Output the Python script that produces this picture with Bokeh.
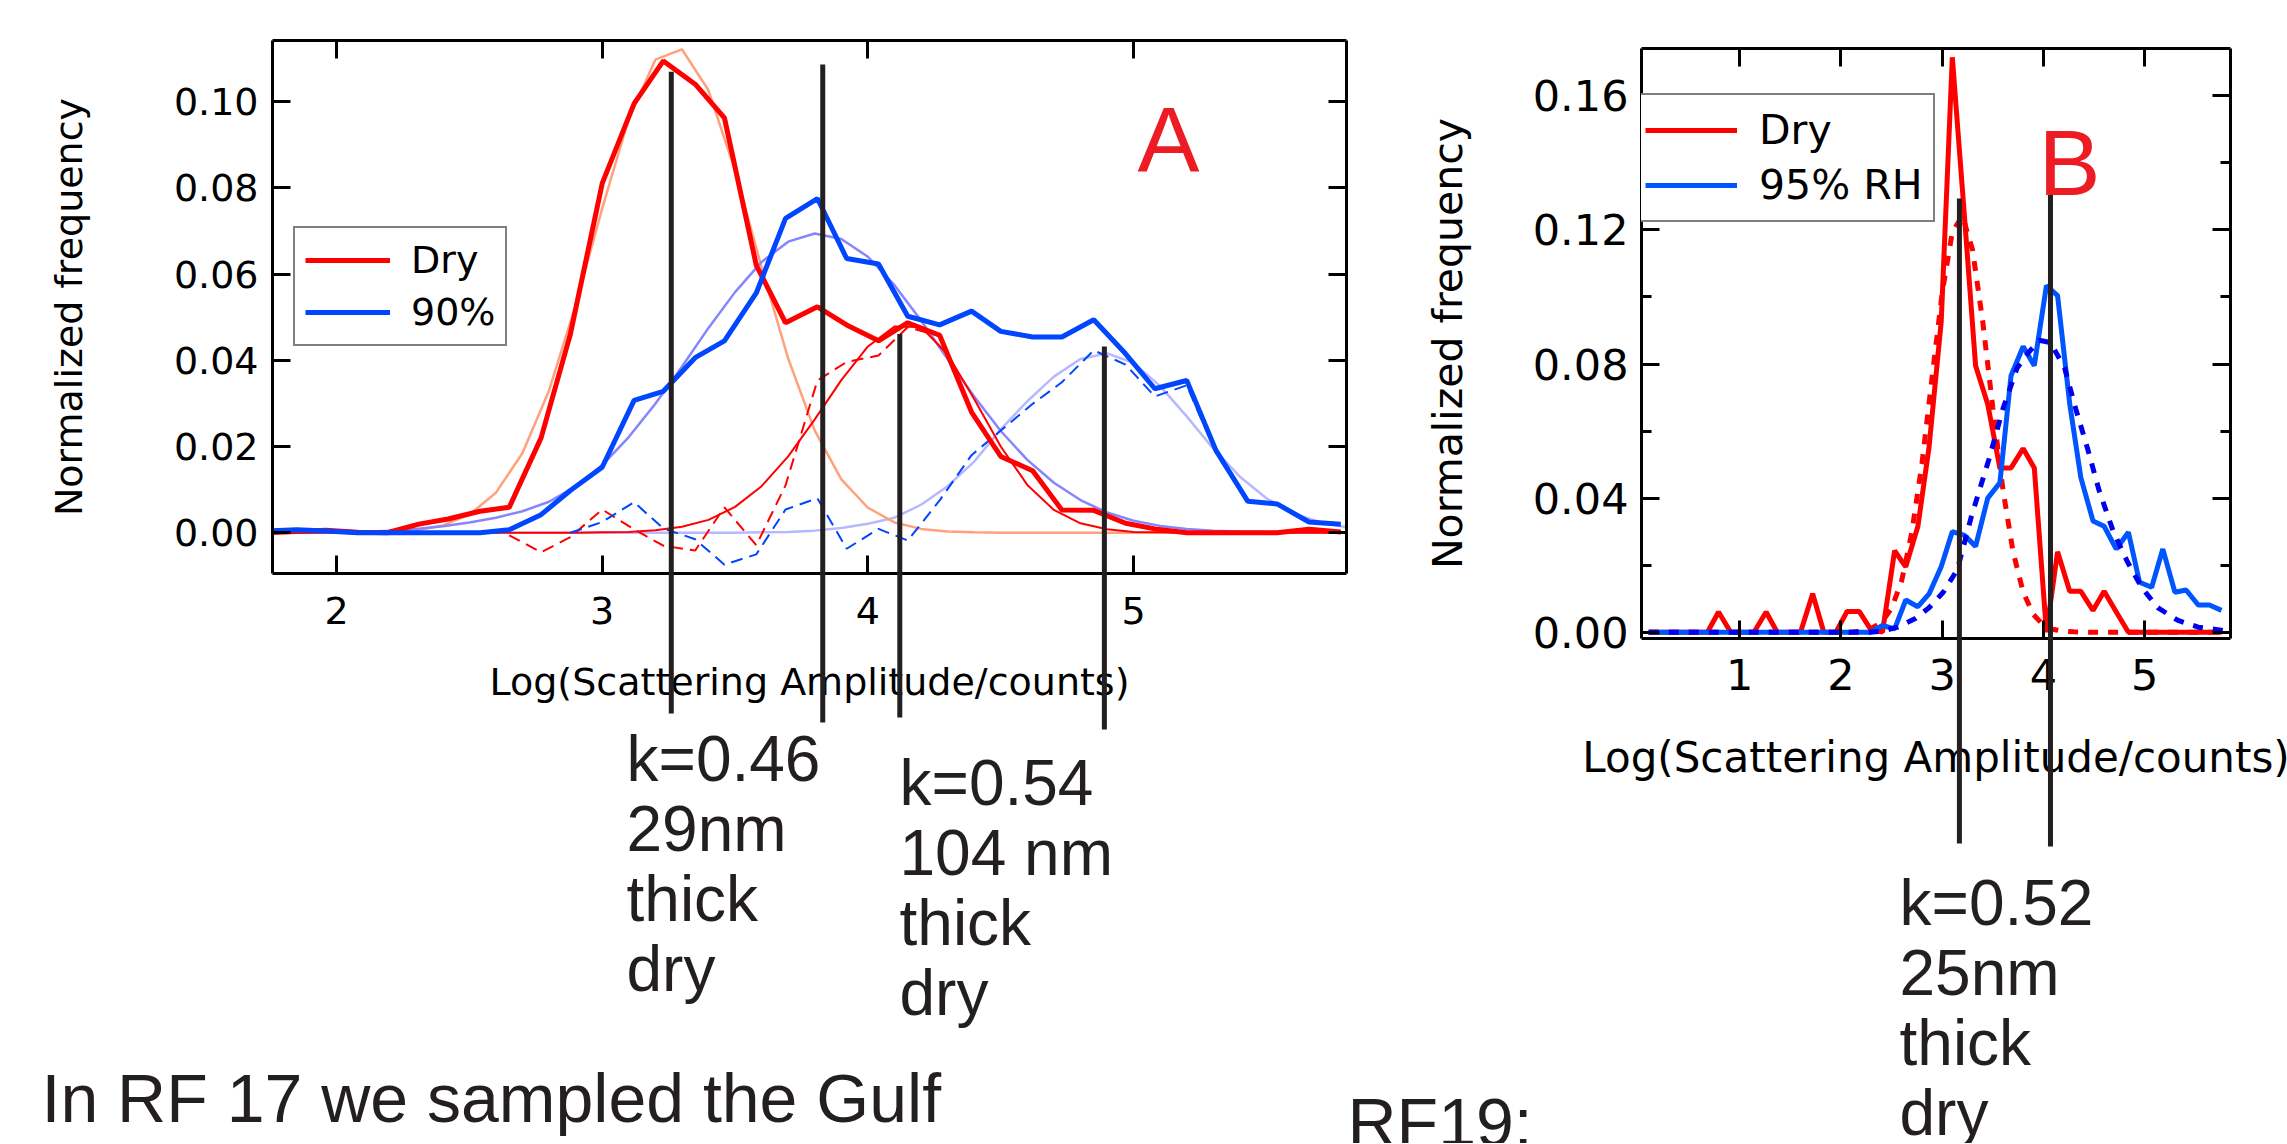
from bokeh.plotting import figure
from bokeh.models import (Range1d, LinearAxis, FixedTicker, PrintfTickFormatter,
                          Legend, LegendItem, Spacer)
from bokeh.core.properties import value
from bokeh.layouts import column, row
from bokeh.embed import file_html
from bokeh.resources import INLINE

# ------------------------------------------------------------------ data A
a_bins = [1.73, 1.85, 1.96, 2.08, 2.19, 2.31, 2.42, 2.54, 2.65, 2.77, 2.88, 3.00,
          3.12, 3.23, 3.35, 3.46, 3.58, 3.69, 3.81, 3.92, 4.04, 4.15, 4.27, 4.39,
          4.50, 4.62, 4.73, 4.85, 4.97, 5.08, 5.20, 5.31, 5.43, 5.54, 5.66, 5.78]
a_dry = [0.0000, 0.0003, 0.0006, 0.0001, 0.0000, 0.0020, 0.0032, 0.0050, 0.0059,
         0.0220, 0.0460, 0.0810, 0.0995, 0.1094, 0.1040, 0.0962, 0.0620, 0.0487,
         0.0524, 0.0482, 0.0445, 0.0487, 0.0458, 0.0280, 0.0177, 0.0144, 0.0053,
         0.0052, 0.0022, 0.0009, 0.0000, 0.0000, 0.0000, 0.0000, 0.0008, 0.0002]
a_wet = [0.0004, 0.0007, 0.0004, 0.0000, 0.0000, 0.0000, 0.0000, 0.0000, 0.0007,
         0.0042, 0.0098, 0.0152, 0.0307, 0.0328, 0.0406, 0.0445, 0.0556, 0.0729,
         0.0775, 0.0636, 0.0623, 0.0502, 0.0482, 0.0514, 0.0467, 0.0454, 0.0454,
         0.0494, 0.0415, 0.0334, 0.0353, 0.0191, 0.0073, 0.0067, 0.0025, 0.0020]
a_dry_res_x = [2.65, 2.77, 2.88, 3.00, 3.12, 3.23, 3.35, 3.46, 3.58, 3.69, 3.81, 3.92,
               4.04, 4.15, 4.27, 4.39, 4.50, 4.62, 4.73, 4.85, 4.97, 5.08, 5.20, 5.31,
               5.43, 5.54, 5.66, 5.78]
a_dry_res = [-0.0006, -0.0045, -0.0010, 0.0054, 0.0008, -0.0030, -0.0041, 0.0059,
             -0.0029, 0.0110, 0.0353, 0.0396, 0.0411, 0.0477, 0.0456, 0.0280, 0.0177,
             0.0144, 0.0053, 0.0052, 0.0022, 0.0009, 0.0000, 0.0000, 0.0000, 0.0000,
             0.0008, 0.0002]
a_wet_res_x = [2.88, 3.00, 3.12, 3.23, 3.35, 3.46, 3.58, 3.69, 3.81, 3.92, 4.04, 4.15,
               4.27, 4.39, 4.50, 4.62, 4.73, 4.85, 4.97, 5.08, 5.20, 5.31, 5.43, 5.54,
               5.66, 5.78]
a_wet_res = [0.0000, 0.0025, 0.0071, 0.0010, -0.0015, -0.0074, -0.0050, 0.0054, 0.0080,
             -0.0037, 0.0009, -0.0018, 0.0075, 0.0180, 0.0237, 0.0299, 0.0349, 0.0423,
             0.0390, 0.0316, 0.0342, 0.0185, 0.0071, 0.0066, 0.0025, 0.0020]
a_fit_x = [1.8, 1.9, 2.0, 2.1, 2.2, 2.3, 2.4, 2.5, 2.6, 2.7, 2.8, 2.9, 3.0, 3.1,
           3.2, 3.3, 3.4, 3.5, 3.6, 3.7, 3.8, 3.9, 4.0, 4.1, 4.2, 4.3, 4.4, 4.5,
           4.6, 4.7, 4.8, 4.9, 5.0, 5.1, 5.2, 5.3, 5.4, 5.5, 5.6, 5.7, 5.8]
a_fit_dry1 = [0.0000, 0.0000, 0.0000, 0.0001, 0.0002, 0.0006, 0.0017, 0.0042, 0.0093,
              0.0185, 0.0330, 0.0527, 0.0752, 0.0960, 0.1097, 0.1121, 0.1026, 0.0840,
              0.0615, 0.0404, 0.0237, 0.0124, 0.0058, 0.0024, 0.0009, 0.0003, 0.0001,
              0.0, 0.0, 0.0, 0.0, 0.0, 0.0, 0.0, 0.0, 0.0, 0.0, 0.0, 0.0, 0.0, 0.0]
a_fit_dry2 = [0.0, 0.0, 0.0, 0.0, 0.0, 0.0, 0.0, 0.0, 0.0, 0.0, 0.0, 0.0,
              0.0001, 0.0002, 0.0006, 0.0014, 0.0030, 0.0060, 0.0108, 0.0177, 0.0263,
              0.0354, 0.0432, 0.0478, 0.0477, 0.0414, 0.0310, 0.0200, 0.0111, 0.0053,
              0.0022, 0.0008, 0.0002, 0.0001, 0.0, 0.0, 0.0, 0.0, 0.0, 0.0, 0.0]
a_fit_wet1 = [0.0000, 0.0000, 0.0001, 0.0002, 0.0005, 0.0009, 0.0015, 0.0024, 0.0035,
              0.0050, 0.0072, 0.0108, 0.0157, 0.0222, 0.0299, 0.0385, 0.0475, 0.0558,
              0.0628, 0.0675, 0.0694, 0.0681, 0.0640, 0.0574, 0.0492, 0.0403, 0.0316,
              0.0236, 0.0169, 0.0116, 0.0076, 0.0047, 0.0028, 0.0016, 0.0009, 0.0005,
              0.0003, 0.0002, 0.0001, 0.0001, 0.0001]
a_fit_wet2 = [0.0, 0.0, 0.0, 0.0, 0.0, 0.0, 0.0, 0.0, 0.0, 0.0, 0.0, 0.0, 0.0, 0.0,
              0.0, 0.0, 0.0, 0.0, 0.0001, 0.0002, 0.0005, 0.0011, 0.0021, 0.0035,
              0.0065, 0.0108, 0.0165, 0.0240, 0.0305, 0.0362, 0.0403, 0.0416, 0.0394,
              0.0340, 0.0270, 0.0195, 0.0130, 0.0080, 0.0045, 0.0025, 0.0013]
a_xticks = [2, 3, 4, 5]
a_yticks = [0.00, 0.02, 0.04, 0.06, 0.08, 0.10]
a_marker_x = [3.26, 3.83, 4.12, 4.89]
a_marker_top = [0.1069, 0.1086, 0.0461, 0.0432]
a_marker_bottom = [-0.0419, -0.0440, -0.0428, -0.0456]
a_series_names = ["Dry", "90%"]
a_note_1 = ["k=0.46", "29nm", "thick", "dry"]
a_note_2 = ["k=0.54", "104 nm", "thick", "dry"]

# ------------------------------------------------------------------ data B
b_bins = [0.10, 0.22, 0.33, 0.45, 0.56, 0.68, 0.79, 0.91, 1.02, 1.14, 1.26, 1.37,
          1.49, 1.60, 1.72, 1.83, 1.95, 2.06, 2.18, 2.29, 2.41, 2.53, 2.64, 2.76,
          2.87, 2.99, 3.10, 3.22, 3.33, 3.45, 3.57, 3.68, 3.80, 3.91, 4.03, 4.14,
          4.26, 4.37, 4.49, 4.60, 4.72, 4.84, 4.95, 5.07, 5.18, 5.30, 5.41, 5.53,
          5.64, 5.76]
b_dry = [0.0, 0.0, 0.0, 0.0, 0.0, 0.0, 0.0060, 0.0, 0.0, 0.0, 0.0060, 0.0, 0.0,
         0.0, 0.0115, 0.0, 0.0, 0.0062, 0.0062, 0.0010, 0.0, 0.0243, 0.0195, 0.0316,
         0.0552, 0.0925, 0.1715, 0.1240, 0.0795, 0.0680, 0.0490, 0.0490, 0.0548,
         0.0490, 0.0000, 0.0240, 0.0122, 0.0122, 0.0065, 0.0122, 0.0060, 0.0, 0.0,
         0.0, 0.0, 0.0, 0.0, 0.0, 0.0, 0.0]
b_wet = [0.0, 0.0, 0.0, 0.0, 0.0, 0.0, 0.0, 0.0, 0.0, 0.0, 0.0, 0.0, 0.0, 0.0,
         0.0, 0.0, 0.0, 0.0, 0.0, 0.0, 0.0020, 0.0010, 0.0096, 0.0076, 0.0114,
         0.0195, 0.0300, 0.0289, 0.0256, 0.0400, 0.0446, 0.0765, 0.0852, 0.0795,
         0.1034, 0.1004, 0.0681, 0.0461, 0.0332, 0.0316, 0.0248, 0.0298, 0.0149,
         0.0134, 0.0248, 0.0119, 0.0126, 0.0081, 0.0081, 0.0065]
b_fit_dry_x = [0.10, 2.10, 2.20, 2.30, 2.40, 2.50, 2.60, 2.70, 2.80, 2.90, 3.00, 3.10,
               3.20, 3.30, 3.40, 3.50, 3.60, 3.70, 3.80, 3.90, 4.00, 4.10, 4.20, 4.30,
               4.40, 5.80]
b_fit_dry = [0.0, 0.0, 0.0004, 0.0011, 0.0029, 0.0071, 0.0154, 0.0298, 0.0503, 0.0760,
             0.1012, 0.1194, 0.1242, 0.1140, 0.0928, 0.0670, 0.0426, 0.0240, 0.0120,
             0.0053, 0.0021, 0.0008, 0.0003, 0.0001, 0.0, 0.0]
b_fit_wet_x = [0.10, 2.28, 2.40, 2.56, 2.73, 2.87, 3.01, 3.15, 3.29, 3.46, 3.60, 3.74,
               3.85, 3.96, 4.07, 4.21, 4.32, 4.44, 4.55, 4.69, 4.83, 4.97, 5.13, 5.33,
               5.53, 5.78]
b_fit_wet = [0.0, 0.0, 0.0003, 0.0015, 0.0040, 0.0073, 0.0119, 0.0187, 0.0347, 0.0514,
             0.0666, 0.0788, 0.0833, 0.0871, 0.0864, 0.0788, 0.0666, 0.0544, 0.0423,
             0.0301, 0.0210, 0.0134, 0.0073, 0.0035, 0.0015, 0.0005]
b_xticks = [1, 2, 3, 4, 5]
b_yticks = [0.00, 0.04, 0.08, 0.12, 0.16]
b_yminor = [0.02, 0.06, 0.10, 0.14]
b_marker_x = [3.17, 4.07]
b_marker_top = [0.1294, 0.1321]
b_marker_bottom = [-0.0630, -0.0639]
b_series_names = ["Dry", "95% RH"]
b_note = ["k=0.52", "25nm", "thick", "dry"]

x_title = "Log(Scattering Amplitude/counts)"
y_title = "Normalized frequency"
caption_left = "In RF 17 we sampled the Gulf"
caption_right = "RF19:"

# ------------------------------------------------------------------ style
CHART_FONT = "DejaVu Sans"
NOTE_FONT = "Liberation Sans"
INK = "#231F20"
RED = "#FF0000"
BLUE = "#0046FF"
BLUE_B = "#0055FF"
DARK_BLUE = "#0000F0"
LETTER_RED = "#ED1C24"
BASELINE_FIX = 0.38   # em, compensates the renderer's baseline placement


def panel(fig_w, fig_h, left, top, fw, fh, xr, yr, px_x, px_y):
    p = figure(frame_width=fw, frame_height=fh,
               x_range=Range1d(*xr), y_range=Range1d(*yr),
               min_border_left=left, min_border_top=top,
               min_border_right=fig_w - left - fw,
               min_border_bottom=fig_h - top - fh,
               x_axis_location=None, y_axis_location=None,
               output_backend="svg", toolbar_location=None)
    p.grid.visible = False
    p.outline_line_color = None
    # page-pixel coordinate system over the frame, used for placing notes
    p.extra_x_ranges = {"px": Range1d(*px_x)}
    p.extra_y_ranges = {"px": Range1d(*px_y)}
    return p


def axes(p, xticks, yticks, yminor, tick_fs, x_fmt, y_fmt,
         xlab_fs, ylab_fs, x_std, y_std, xlab_std, ylab_std, minor_len):
    for loc in ("below", "above", "left", "right"):
        horiz = loc in ("below", "above")
        if horiz:
            tk = FixedTicker(ticks=xticks)
            fmt = PrintfTickFormatter(format=x_fmt)
        else:
            tk = FixedTicker(ticks=yticks, minor_ticks=yminor)
            fmt = PrintfTickFormatter(format=y_fmt)
        ax = LinearAxis(ticker=tk, formatter=fmt)
        ax.axis_line_color = "black"
        ax.axis_line_width = 3
        ax.major_tick_in = 18
        ax.major_tick_out = 0
        ax.major_tick_line_width = 3
        ax.major_tick_line_color = "black"
        if yminor and not horiz:
            ax.minor_tick_in = minor_len
            ax.minor_tick_out = 0
            ax.minor_tick_line_width = 3
            ax.minor_tick_line_color = "black"
        else:
            ax.minor_tick_line_color = None
        ax.major_label_text_font = CHART_FONT
        if loc in ("below", "left"):
            ax.major_label_text_color = "black"
            ax.major_label_text_font_size = tick_fs
            ax.major_label_standoff = x_std if horiz else y_std
            ax.axis_label = x_title if horiz else y_title
            ax.axis_label_text_font = CHART_FONT
            ax.axis_label_text_font_size = xlab_fs if horiz else ylab_fs
            ax.axis_label_text_font_style = "normal"
            ax.axis_label_text_color = "black"
            ax.axis_label_standoff = xlab_std if horiz else ylab_std
        else:
            # mirrored tick-only axes: no labels drawn
            ax.major_label_text_color = None
            ax.major_label_text_font_size = "1px"
            ax.major_label_standoff = 0
        p.add_layout(ax, loc)


def notes(p, xs, ys, texts, size, color=INK, font=NOTE_FONT):
    ys = [y - BASELINE_FIX * size for y in ys]
    p.text(x=xs, y=ys, text=texts, x_range_name="px", y_range_name="px",
           text_font=value(font), text_font_size=value(f"{size}px"),
           text_color=color, text_align="left", text_baseline="alphabetic",
           level="overlay")


def legend(p, rends, names, loc, fs, gw, standoff, pad, spacing):
    lg = Legend(items=[LegendItem(label=n, renderers=[r]) for n, r in zip(names, rends)],
                location=loc, orientation="vertical",
                label_text_font=CHART_FONT, label_text_font_size=fs,
                label_text_color="black",
                glyph_width=gw, glyph_height=30, label_standoff=standoff,
                padding=pad, spacing=spacing, margin=0,
                border_line_color="black", border_line_width=2,
                background_fill_color="white", background_fill_alpha=1.0)
    p.add_layout(lg)


# ------------------------------------------------------------------ panel A
pA = panel(1410, 1070, 272, 40, 1074, 533, (1.7591, 5.8013), (-0.00944, 0.11414),
           (272, 1346), (573, 40))
axes(pA, a_xticks, a_yticks, [], "38px", "%d", "%.2f", "38px", "38px",
     23, 14, 33, 80, 0)

pA.line(a_fit_x, a_fit_wet2, line_color="#B8B8FF", line_width=2.5)
pA.line(a_fit_x, a_fit_dry1, line_color="#FFA27C", line_width=2.5)
pA.line(a_fit_x, a_fit_wet1, line_color="#8585FF", line_width=2.5)
pA.line(a_fit_x, a_fit_dry2, line_color=RED, line_width=2)
pA.line(a_dry_res_x, a_dry_res, line_color=RED, line_width=2, line_dash="12 7")
pA.line(a_wet_res_x, a_wet_res, line_color=BLUE, line_width=2, line_dash="12 7")
rA_dry = pA.line(a_bins, a_dry, line_color=RED, line_width=5)
rA_wet = pA.line(a_bins, a_wet, line_color=BLUE, line_width=5)
pA.segment(x0=a_marker_x, y0=a_marker_top, x1=a_marker_x, y1=a_marker_bottom,
           line_color=INK, line_width=5, level="overlay")
legend(pA, [rA_dry, rA_wet], a_series_names, (21, 227), "38px", 85, 21, 10, 8)

notes(pA, [1137], [175], ["A"], 93, color=LETTER_RED)
notes(pA, [626] * 4, [783, 853, 923, 993], a_note_1, 64)
notes(pA, [899] * 4, [807, 877, 947, 1017], a_note_2, 64)

# ------------------------------------------------------------------ panel B
pB = panel(877, 1062, 231, 40, 589, 590, (0.0287, 5.8488), (-0.00188, 0.17411),
           (1641, 2230), (638, 48))
axes(pB, b_xticks, b_yticks, b_yminor, "43px", "%d", "%.2f", "42px", "41px",
     20, 13, 40, 58, 10)

rB_dry = pB.line(b_bins, b_dry, line_color=RED, line_width=5)
pB.line(b_fit_dry_x, b_fit_dry, line_color=RED, line_width=5, line_dash="10 10")
rB_wet = pB.line(b_bins, b_wet, line_color=BLUE_B, line_width=5)
pB.line(b_fit_wet_x, b_fit_wet, line_color=DARK_BLUE, line_width=5, line_dash="10 10")
pB.segment(x0=b_marker_x, y0=b_marker_top, x1=b_marker_x, y1=b_marker_bottom,
           line_color=INK, line_width=5, level="overlay")
legend(pB, [rB_dry, rB_wet], b_series_names, (-9, 416), "41px", 92, 22, 11, 7)

notes(pB, [2038], [198], ["B"], 93, color=LETTER_RED)
notes(pB, [1899] * 3, [927, 997, 1067], b_note[:3], 64)

# ------------------------------------------------------------------ caption strip
strip = figure(width=2287, height=73, x_range=Range1d(0, 2287),
               y_range=Range1d(1143, 1070), min_border=0,
               x_axis_location=None, y_axis_location=None,
               output_backend="svg", toolbar_location=None)
strip.grid.visible = False
strip.outline_line_color = None
strip.extra_x_ranges = {"px": Range1d(0, 2287)}
strip.extra_y_ranges = {"px": Range1d(1143, 1070)}
notes(strip, [41], [1123], [caption_left], 68)
notes(strip, [1347], [1147], [caption_right], 68)
notes(strip, [1899], [1137], [b_note[3]], 64)

layout = column(row(pA, column(Spacer(width=877, height=8), pB)), strip)
open("out.html", "w").write(file_html(layout, INLINE))
